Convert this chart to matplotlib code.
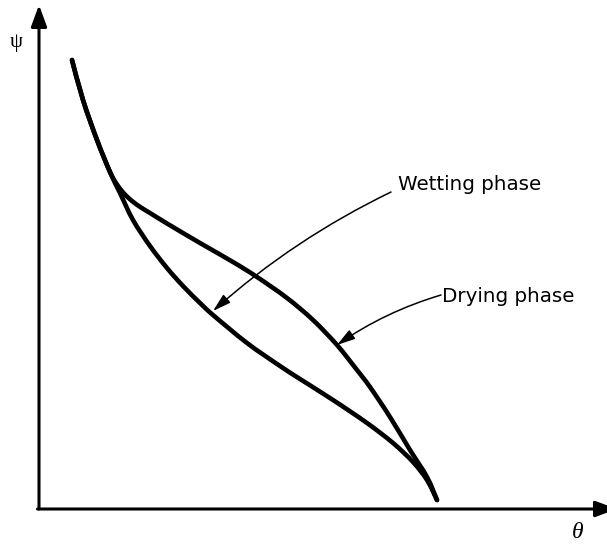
import numpy as np
import matplotlib
matplotlib.use("Agg")
import matplotlib.pyplot as plt
from matplotlib.path import Path
from matplotlib.patches import PathPatch

# Soil-water retention curves (arbitrary units): water content theta vs suction psi
theta_drying = [6.6, 8.8, 11.6, 14.2, 15.6, 17.0, 18.6, 20.4, 22.2, 25.6, 32.2, 38.8, 43.6,
                49.6, 54.8, 59.6, 63.6, 66.2, 70.2, 74.2, 77.6, 79.6]
psi_drying = [89.8, 81.8, 73.8, 67.4, 64.9, 63.1, 61.6, 60.3, 59.2, 57.1, 53.2, 49.4, 46.4,
              42.2, 37.8, 32.8, 27.8, 24.4, 18.4, 11.8, 6.4, 1.8]

theta_wetting = [6.6, 8.8, 11.6, 14.2, 16.2, 18.8, 22.2, 25.6, 28.8, 32.2, 34.8, 41.6,
                 48.2, 52.2, 58.8, 65.6, 70.8, 74.8, 77.6, 79.6]
psi_wetting = [89.8, 81.8, 73.8, 67.4, 63.2, 57.8, 52.6, 48.2, 44.6, 41.2, 38.8, 33.2,
               28.6, 26.0, 21.8, 17.2, 13.2, 9.4, 5.8, 1.8]

# annotation anchors (label position, arrow start, arrow tip)
wet_label = "Wetting phase"
wet_text_xy = (71.8, 65.0)
wet_arrow_start = (70.4, 63.4)
wet_arrow_tip = (34.8, 39.6)

dry_label = "Drying phase"
dry_text_xy = (80.6, 42.4)
dry_arrow_start = (80.4, 42.8)
dry_arrow_tip = (59.6, 32.8)

x_label = "θ"
y_label = "ψ"


def smooth_path(xs, ys):
    """Catmull-Rom style cubic Bezier path running through the given points."""
    p = np.column_stack([xs, ys]).astype(float)
    n = len(p)
    verts = [p[0]]
    codes = [Path.MOVETO]
    for i in range(n - 1):
        p0 = p[i - 1] if i > 0 else p[i]
        p1 = p[i]
        p2 = p[i + 1]
        p3 = p[i + 2] if i + 2 < n else p[i + 1]
        c1 = p1 + (p2 - p0) / 6.0
        c2 = p2 - (p3 - p1) / 6.0
        verts += [c1, c2, p2]
        codes += [Path.CURVE4] * 3
    return Path(verts, codes)


fig = plt.figure(figsize=(6.07, 5.45), dpi=100)
ax = fig.add_axes([0, 0, 1, 1])
ax.set_xlim(-7.8, 113.6)
ax.set_ylim(-7.2, 101.8)
ax.axis("off")

# coordinate axes with arrow heads
axis_kw = dict(arrowstyle="-|>,head_length=0.65,head_width=0.24",
               color="black", lw=2.2, shrinkA=0, shrinkB=0, mutation_scale=20)
ax.annotate("", xy=(0, 100.8), xytext=(0, 0), arrowprops=axis_kw, annotation_clip=False)
ax.annotate("", xy=(115.6, 0), xytext=(-0.3, 0), arrowprops=axis_kw, annotation_clip=False)

for xs, ys in [(theta_drying, psi_drying), (theta_wetting, psi_wetting)]:
    ax.add_patch(PathPatch(smooth_path(xs, ys), fill=False, lw=3.3, color="black",
                           capstyle="round", joinstyle="round"))

arrow_kw = dict(arrowstyle="-|>,head_length=0.55,head_width=0.16", color="black",
                lw=1.1, shrinkA=0, shrinkB=0, mutation_scale=20)
ax.annotate("", xy=wet_arrow_tip, xytext=wet_arrow_start,
            arrowprops=dict(connectionstyle="arc3,rad=0.07", **arrow_kw))
ax.annotate("", xy=dry_arrow_tip, xytext=dry_arrow_start,
            arrowprops=dict(connectionstyle="arc3,rad=0.08", **arrow_kw))

ax.text(*wet_text_xy, wet_label, fontsize=14.3, family="DejaVu Sans",
        ha="left", va="center")
ax.text(*dry_text_xy, dry_label, fontsize=14.3, family="DejaVu Sans",
        ha="left", va="center")

ax.text(-4.6, 93.2, y_label, fontsize=15, family="Liberation Serif",
        ha="center", va="center")
ax.text(107.8, -4.6, x_label, fontsize=17, family="Liberation Serif", style="italic",
        ha="center", va="center")

fig.savefig("out.png", dpi=100)
